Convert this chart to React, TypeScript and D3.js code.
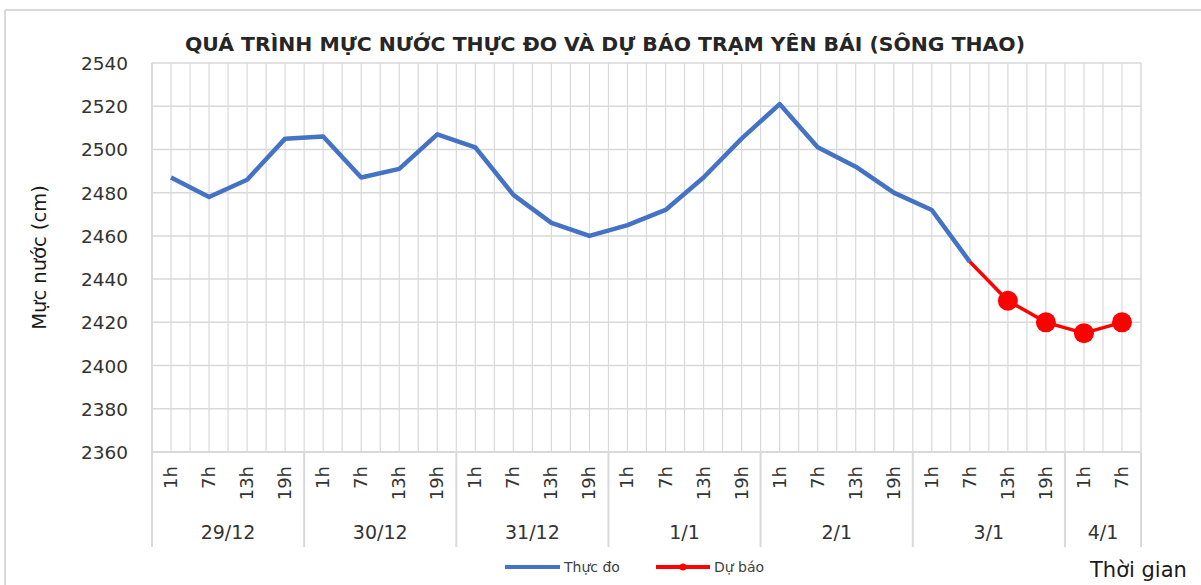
import React from "react";
import * as d3 from "d3";

// ---------- DATA ----------
const dayLabels = ["29/12", "30/12", "31/12", "1/1", "2/1", "3/1", "4/1"];
const hoursPerDay = [4, 4, 4, 4, 4, 4, 2];
const hourLabels = [
  "1h", "7h", "13h", "19h",
  "1h", "7h", "13h", "19h",
  "1h", "7h", "13h", "19h",
  "1h", "7h", "13h", "19h",
  "1h", "7h", "13h", "19h",
  "1h", "7h", "13h", "19h",
  "1h", "7h",
];
// Observed water level (cm), index 0..21
const observed = [
  2487, 2478, 2486, 2505, 2506, 2487, 2491, 2507, 2501, 2479, 2466, 2460,
  2465, 2472, 2487, 2505, 2521, 2501, 2492, 2480, 2472, 2448,
];
// Forecast water level (cm), index 21..25
const forecastStart = 21;
const forecast = [2448, 2430, 2420, 2415, 2420];
const yTicks = [2360, 2380, 2400, 2420, 2440, 2460, 2480, 2500, 2520, 2540];

const title = "QUÁ TRÌNH MỰC NƯỚC THỰC ĐO VÀ DỰ BÁO TRẠM YÊN BÁI (SÔNG THAO)";
const yTitle = "Mực nước (cm)";
const xTitle = "Thời gian";
const legendObserved = "Thực đo";
const legendForecast = "Dự báo";

// ---------- LAYOUT ----------
const W = 1201;
const H = 585;
const plot = { left: 152, right: 1141, top: 63, bottom: 452 };
const axisBottom = 547;
const FONT = "'DejaVu Sans', sans-serif";
const GRID = "#d9d9d9";
const BLUE = "#4472C4";
const RED = "#FF0000";

export default function App() {
  const idx = hourLabels.map((_, i) => i);
  const x = d3
    .scaleBand<number>()
    .domain(idx)
    .range([plot.left, plot.right])
    .padding(0);
  const bw = x.bandwidth();
  const cx = (i: number) => (x(i) as number) + bw / 2;
  const y = d3
    .scaleLinear()
    .domain([yTicks[0], yTicks[yTicks.length - 1]])
    .range([plot.bottom, plot.top]);

  const line = d3
    .line<[number, number]>()
    .x((d) => cx(d[0]))
    .y((d) => y(d[1]));

  const obsPts: [number, number][] = observed.map((v, i) => [i, v]);
  const fcPts: [number, number][] = forecast.map((v, i) => [forecastStart + i, v]);

  // day group boundaries
  const dayBounds: { start: number; end: number; label: string }[] = [];
  let acc = 0;
  dayLabels.forEach((lab, k) => {
    dayBounds.push({ start: acc, end: acc + hoursPerDay[k], label: lab });
    acc += hoursPerDay[k];
  });
  const edgeX = (i: number) =>
    i >= hourLabels.length ? plot.right : (x(i) as number);

  return (
    <svg
      width={W}
      height={H}
      style={{ position: "absolute", left: 0, top: 0, background: "#fff" }}
      fontFamily={FONT}
    >
      <rect x={0} y={0} width={W} height={H} fill="#fff" />
      {/* outer chart frame */}
      <line x1={5} y1={10} x2={W} y2={10} stroke={GRID} strokeWidth={2} />
      <line x1={5} y1={10} x2={5} y2={H} stroke={GRID} strokeWidth={2} />

      {/* title */}
      <text
        x={(185 + 1025) / 2}
        y={51}
        textAnchor="middle"
        fontWeight="bold"
        fontSize={19}
        fill="#262626"
        textLength={840}
        lengthAdjust="spacingAndGlyphs"
      >
        {title}
      </text>

      {/* horizontal gridlines */}
      {yTicks.map((t) => (
        <line
          key={"h" + t}
          x1={plot.left}
          x2={plot.right}
          y1={y(t)}
          y2={y(t)}
          stroke={GRID}
          strokeWidth={1.5}
        />
      ))}
      {/* vertical gridlines: boundaries and centres */}
      {idx.map((i) => (
        <g key={"v" + i}>
          <line x1={x(i)} x2={x(i)} y1={plot.top} y2={plot.bottom} stroke={GRID} strokeWidth={1.2} />
          <line x1={cx(i)} x2={cx(i)} y1={plot.top} y2={plot.bottom} stroke={GRID} strokeWidth={1.2} />
        </g>
      ))}
      <line x1={plot.right} x2={plot.right} y1={plot.top} y2={plot.bottom} stroke={GRID} strokeWidth={1.5} />

      {/* category axis table */}
      <line x1={plot.left} x2={plot.right} y1={plot.bottom} y2={plot.bottom} stroke={GRID} strokeWidth={2} />
      {dayBounds.map((d, k) => (
        <line
          key={"db" + k}
          x1={edgeX(d.start)}
          x2={edgeX(d.start)}
          y1={plot.bottom}
          y2={axisBottom}
          stroke={GRID}
          strokeWidth={2}
        />
      ))}
      <line x1={plot.right} x2={plot.right} y1={plot.bottom} y2={axisBottom} stroke={GRID} strokeWidth={2} />
      <line x1={plot.left} x2={plot.left} y1={plot.top} y2={plot.bottom} stroke={GRID} strokeWidth={2} />

      {/* hour labels */}
      {hourLabels.map((h, i) => (
        <text
          key={"hl" + i}
          transform={`translate(${cx(i) + 6},466) rotate(-90)`}
          textAnchor="end"
          fontSize={18}
          fill="#333"
        >
          {h}
        </text>
      ))}
      {/* day labels */}
      {dayBounds.map((d, k) => (
        <text
          key={"dl" + k}
          x={(edgeX(d.start) + edgeX(d.end)) / 2}
          y={539}
          textAnchor="middle"
          fontSize={19}
          fill="#333"
        >
          {d.label}
        </text>
      ))}

      {/* y tick labels */}
      {yTicks.map((t) => (
        <text
          key={"yt" + t}
          x={128}
          y={y(t) + 7}
          textAnchor="end"
          fontSize={18.5}
          fill="#333"
        >
          {t}
        </text>
      ))}
      {/* y title */}
      <text
        transform={`translate(46,${(plot.top + plot.bottom) / 2}) rotate(-90)`}
        textAnchor="middle"
        fontSize={19.5}
        fill="#1a1a1a"
      >
        {yTitle}
      </text>

      {/* series */}
      <path d={line(obsPts) || ""} fill="none" stroke={BLUE} strokeWidth={4.5} strokeLinejoin="round" />
      <path d={line(fcPts) || ""} fill="none" stroke={RED} strokeWidth={3.5} strokeLinejoin="round" />
      {fcPts.slice(1).map((p, i) => (
        <circle key={"m" + i} cx={cx(p[0])} cy={y(p[1])} r={10} fill={RED} />
      ))}

      {/* legend */}
      <line x1={505} x2={560} y1={567} y2={567} stroke={BLUE} strokeWidth={4} />
      <text x={564} y={572} fontSize={14} fill="#404040">{legendObserved}</text>
      <line x1={656} x2={710} y1={567} y2={567} stroke={RED} strokeWidth={4} />
      <circle cx={683} cy={567} r={3.5} fill={RED} />
      <text x={714} y={572} fontSize={14} fill="#404040">{legendForecast}</text>

      {/* x title */}
      <text x={1090} y={577} fontSize={21} fill="#1a1a1a">{xTitle}</text>
    </svg>
  );
}
